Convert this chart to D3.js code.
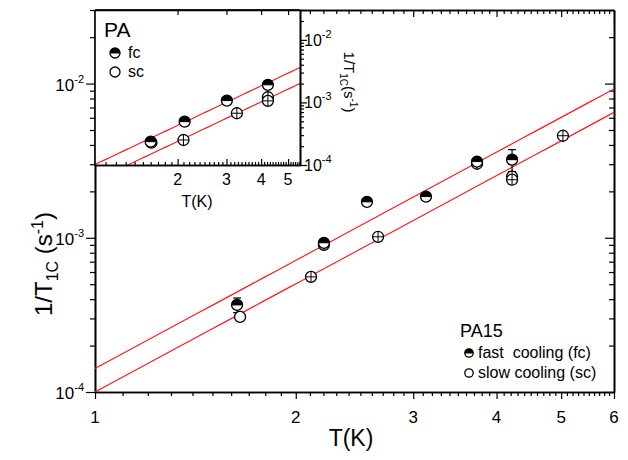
<!DOCTYPE html>
<html><head><meta charset="utf-8">
<script src="https://cdn.jsdelivr.net/npm/d3@7"></script>
<style>
body{margin:0;background:#fff}
text{font-family:"Liberation Sans",Arial,Helvetica,sans-serif;fill:#000}
</style>
</head><body>
<svg id="c" width="628" height="460" xmlns="http://www.w3.org/2000/svg"></svg>
<script>
// ---------------- data (main plot, PA15) ----------------
const fcT    = [1.633, 2.204, 2.557, 3.135, 3.739, 4.22];
const fcRate = [3.67e-4, 9.28e-4, 1.71e-3, 1.85e-3, 3.12e-3, 3.21e-3];
const fcErr  = [4.0e-5, 0, 0, 0, 0, 5.2e-4];
const scT    = [1.65, 2.108, 2.204, 2.657, 3.739, 4.22, 4.22, 5.03];
const scRate = [3.07e-4, 5.58e-4, 9.0e-4, 1.015e-3, 3.02e-3, 2.49e-3, 2.38e-3, 4.59e-3];
const fitPrefactor = [1.42e-4, 1.0e-4];   // fc, sc :  rate = A * T^n
const fitExponent  = 2.33;
const xTickValues  = [1, 2, 3, 4, 5, 6];
const yTickExponents = [-4, -3, -2];

// ---------------- data (inset, PA) ----------------
const insetFcT    = [1.60, 2.12, 3.01, 4.23];
const insetFcRate = [2.36e-4, 4.93e-4, 1.07e-3, 1.91e-3];
const insetScT    = [1.61, 2.10, 3.27, 4.23, 4.23];
const insetScRate = [2.27e-4, 2.51e-4, 6.72e-4, 1.21e-3, 1.06e-3];
const insetFitPrefactor = [1.0e-4, 5.55e-5];
const insetFitExponent  = 2.1;
const insetXTickValues  = [2, 3, 4, 5];
const insetYTickExponents = [-4, -3, -2];

// ---------------- legend texts ----------------
const mainTitle = "PA15";
const mainLegend = ["fast  cooling (fc)", "slow cooling (sc)"];
const insetTitle = "PA";
const insetLegend = ["fc", "sc"];

const svg = d3.select("#c");

// scales
const x = d3.scaleLog().domain([1, 6]).range([95, 614]);
const y = d3.scaleLog().domain([1e-4, 3e-2]).range([392, 10]);
const xi = d3.scaleLog().domain([1, 5.52]).range([94, 300]);
const yi = d3.scaleLog().domain([1e-4, 3e-2]).range([165, 10]);

function minorX(dom){ const out=[]; for(let v=1; v<=dom[1]+1e-9; v=+(v+0.1).toFixed(1)){ if(Math.abs(v-Math.round(v))>1e-6 && v>=dom[0]) out.push(v);} return out; }
function minorY(dom){ const out=[]; for(let e=-5;e<=-1;e++){ for(let m=2;m<=9;m++){ const v=m*Math.pow(10,e); if(v>=dom[0]*0.999 && v<=dom[1]*1.001) out.push(v);} } return out; }

function styleAxis(g, w){ g.selectAll("path").attr("stroke","#000").attr("stroke-width",w); g.selectAll("line").attr("stroke","#000").attr("stroke-width",1.2); g.selectAll("text").remove(); }

// ---------- main axes ----------
const main = svg.append("g");
const bx = main.append("g").attr("transform","translate(0,392)");
bx.append("g").call(d3.axisBottom(x).tickValues(minorX(x.domain())).tickSize(4).tickSizeOuter(0)).call(styleAxis,1.6);
bx.append("g").call(d3.axisBottom(x).tickValues(xTickValues).tickSize(7).tickSizeOuter(0)).call(styleAxis,1.6);
const tx = main.append("g").attr("transform","translate(0,10)");
tx.append("g").call(d3.axisTop(x).tickValues(minorX(x.domain())).tickSize(-4).tickSizeOuter(0)).call(styleAxis,1.6);
tx.append("g").call(d3.axisTop(x).tickValues(xTickValues).tickSize(-7).tickSizeOuter(0)).call(styleAxis,1.6);
const ly = main.append("g").attr("transform","translate(95,0)");
ly.append("g").call(d3.axisLeft(y).tickValues(minorY(y.domain())).tickSize(5).tickSizeOuter(0)).call(styleAxis,1.6);
ly.append("g").call(d3.axisLeft(y).tickValues(yTickExponents.map(e=>Math.pow(10,e))).tickSize(9).tickSizeOuter(0)).call(styleAxis,1.6);
const ry = main.append("g").attr("transform","translate(614,0)");
ry.append("g").call(d3.axisRight(y).tickValues(minorY(y.domain())).tickSize(-5).tickSizeOuter(0)).call(styleAxis,1.6);
ry.append("g").call(d3.axisRight(y).tickValues(yTickExponents.map(e=>Math.pow(10,e))).tickSize(-9).tickSizeOuter(0)).call(styleAxis,1.6);

// main tick labels
main.selectAll("text.xt").data(xTickValues).join("text").attr("class","xt")
  .attr("x",d=>x(d)).attr("y",423).attr("text-anchor","middle").attr("font-size",17).text(d=>d);
const ytl = main.selectAll("text.yt").data(yTickExponents).join("text").attr("class","yt")
  .attr("x",84).attr("y",e=>y(Math.pow(10,e))+7).attr("text-anchor","end").attr("font-size",17);
ytl.append("tspan").text("10");
ytl.append("tspan").attr("font-size",11).attr("dy",-8).text(e=>e);

// axis titles
main.append("text").attr("x",351).attr("y",446).attr("text-anchor","middle").attr("font-size",23).text("T(K)");
const yt = main.append("text").attr("transform","translate(52,264) rotate(-90)").attr("text-anchor","middle").attr("font-size",24);
yt.append("tspan").text("1/T");
yt.append("tspan").attr("font-size",16).attr("dy",6).text("1C");
yt.append("tspan").attr("dy",-6).text(" (s");
yt.append("tspan").attr("font-size",16).attr("dy",-9).text("-1");
yt.append("tspan").attr("dy",9).text(")");

// clip for main data
svg.append("clipPath").attr("id","mclip").append("rect").attr("x",95).attr("y",10).attr("width",519).attr("height",382);
const plot = svg.append("g").attr("clip-path","url(#mclip)");

// fit lines
function fitLine(g, xs, ys, A, n, dom){
  const pts = d3.range(0,41).map(i=>{ const t = Math.exp(Math.log(dom[0]) + i/40*(Math.log(dom[1])-Math.log(dom[0]))); return [xs(t), ys(A*Math.pow(t,n))]; });
  g.append("path").attr("d",d3.line()(pts)).attr("fill","none").attr("stroke","#ff1a1a").attr("stroke-width",1.2);
}
fitPrefactor.forEach(A=>fitLine(plot,x,y,A,fitExponent,x.domain()));

// markers
function fcMark(g, cx, cy, r){
  g.append("circle").attr("cx",cx).attr("cy",cy).attr("r",r).attr("fill","#fff").attr("stroke","#000").attr("stroke-width",1.3);
  g.append("path").attr("d",`M${cx-r},${cy} A${r},${r} 0 0 1 ${cx+r},${cy} Z`).attr("fill","#000");
  g.append("line").attr("x1",cx-r).attr("x2",cx+r).attr("y1",cy).attr("y2",cy).attr("stroke","#000").attr("stroke-width",1);
}
function scMark(g, cx, cy, r, cross){
  g.append("circle").attr("cx",cx).attr("cy",cy).attr("r",r).attr("fill","#fff").attr("stroke","#000").attr("stroke-width",1.3);
  if(cross){
    g.append("line").attr("x1",cx-r).attr("x2",cx+r).attr("y1",cy).attr("y2",cy).attr("stroke","#000").attr("stroke-width",1);
    g.append("line").attr("x1",cx).attr("x2",cx).attr("y1",cy-r).attr("y2",cy+r).attr("stroke","#000").attr("stroke-width",1);
  }
}

// error bars (fc)
fcT.forEach((t,i)=>{ if(fcErr[i]>0){
  const x0=x(t), y1=y(fcRate[i]+fcErr[i]), y2=y(fcRate[i]-fcErr[i]);
  plot.append("line").attr("x1",x0).attr("x2",x0).attr("y1",y1).attr("y2",y2).attr("stroke","#000").attr("stroke-width",1.2);
  plot.append("line").attr("x1",x0-4).attr("x2",x0+4).attr("y1",y1).attr("y2",y1).attr("stroke","#000").attr("stroke-width",1.2);
  plot.append("line").attr("x1",x0-4).attr("x2",x0+4).attr("y1",y2).attr("y2",y2).attr("stroke","#000").attr("stroke-width",1.2);
}});
scT.forEach((t,i)=>scMark(plot, x(t), y(scRate[i]), 5.5, i>0));
fcT.forEach((t,i)=>fcMark(plot, x(t), y(fcRate[i]), 5.5));

// main legend
svg.append("text").attr("x",460).attr("y",337).attr("font-size",18).text(mainTitle);
fcMark(svg, 469, 353, 4.2);
scMark(svg, 469, 373, 4.2, false);
svg.append("text").attr("x",478).attr("y",358).attr("font-size",16).attr("xml:space","preserve").style("white-space","pre").text(mainLegend[0]);
svg.append("text").attr("x",478).attr("y",378).attr("font-size",16).text(mainLegend[1]);

// ---------- inset ----------
const inset = svg.append("g");
inset.append("rect").attr("x",95).attr("y",10).attr("width",205).attr("height",155).attr("fill","#fff");
svg.append("clipPath").attr("id","iclip").append("rect").attr("x",95).attr("y",10).attr("width",205).attr("height",155);
const iplot = inset.append("g").attr("clip-path","url(#iclip)");
insetFitPrefactor.forEach(A=>fitLine(iplot,xi,yi,A,insetFitExponent,xi.domain()));
insetScT.forEach((t,i)=>scMark(iplot, xi(t), yi(insetScRate[i]), 5.5, true));
insetFcT.forEach((t,i)=>fcMark(iplot, xi(t), yi(insetFcRate[i]), 5.5));

const ib = inset.append("g").attr("transform","translate(0,165)");
ib.append("g").call(d3.axisBottom(xi).tickValues(minorX(xi.domain())).tickSize(-3).tickSizeOuter(0)).call(styleAxis,1.6);
ib.append("g").call(d3.axisBottom(xi).tickValues(insetXTickValues).tickSize(-6).tickSizeOuter(0)).call(styleAxis,1.6);
const it = inset.append("g").attr("transform","translate(0,10)");
it.append("g").call(d3.axisTop(xi).tickValues(insetXTickValues).tickSize(-5).tickSizeOuter(0)).call(styleAxis,1.6);
const ir = inset.append("g").attr("transform","translate(300,0)");
ir.append("g").call(d3.axisRight(yi).tickValues(minorY(yi.domain())).tickSize(4).tickSizeOuter(0)).call(styleAxis,1.6);
ir.append("g").call(d3.axisRight(yi).tickValues(insetYTickExponents.map(e=>Math.pow(10,e))).tickSize(7).tickSizeOuter(0)).call(styleAxis,1.6);
// main left axis line redrawn over inset background
inset.append("line").attr("x1",95).attr("x2",95).attr("y1",10).attr("y2",165).attr("stroke","#000").attr("stroke-width",1.6);
inset.append("line").attr("x1",95).attr("x2",300).attr("y1",10).attr("y2",10).attr("stroke","#000").attr("stroke-width",1.6);

inset.selectAll("text.ixt").data(insetXTickValues).join("text").attr("class","ixt")
  .attr("x",d=>xi(d)).attr("y",185).attr("text-anchor","middle").attr("font-size",16).text(d=>d);
const iyl = inset.selectAll("text.iyt").data(insetYTickExponents).join("text").attr("class","iyt")
  .attr("x",304).attr("y",e=>yi(Math.pow(10,e))+6).attr("font-size",16);
iyl.append("tspan").text("10");
iyl.append("tspan").attr("font-size",11).attr("dy",-8).text(e=>e);
inset.append("text").attr("x",197).attr("y",207).attr("text-anchor","middle").attr("font-size",16).text("T(K)");
const iyt = inset.append("text").attr("transform","translate(344,82) rotate(90)").attr("text-anchor","middle").attr("font-size",15);
iyt.append("tspan").text("1/T");
iyt.append("tspan").attr("font-size",10).attr("dy",4).text("1C");
iyt.append("tspan").attr("dy",-4).text("(s");
iyt.append("tspan").attr("font-size",10).attr("dy",-6).text("-1");
iyt.append("tspan").attr("dy",6).text(")");

inset.append("text").attr("x",104).attr("y",37).attr("font-size",21).text(insetTitle);
fcMark(inset, 115, 53, 5);
scMark(inset, 115, 72, 5, false);
inset.append("text").attr("x",128).attr("y",58).attr("font-size",16).text(insetLegend[0]);
inset.append("text").attr("x",128).attr("y",77).attr("font-size",16).text(insetLegend[1]);
</script>
</body></html>
